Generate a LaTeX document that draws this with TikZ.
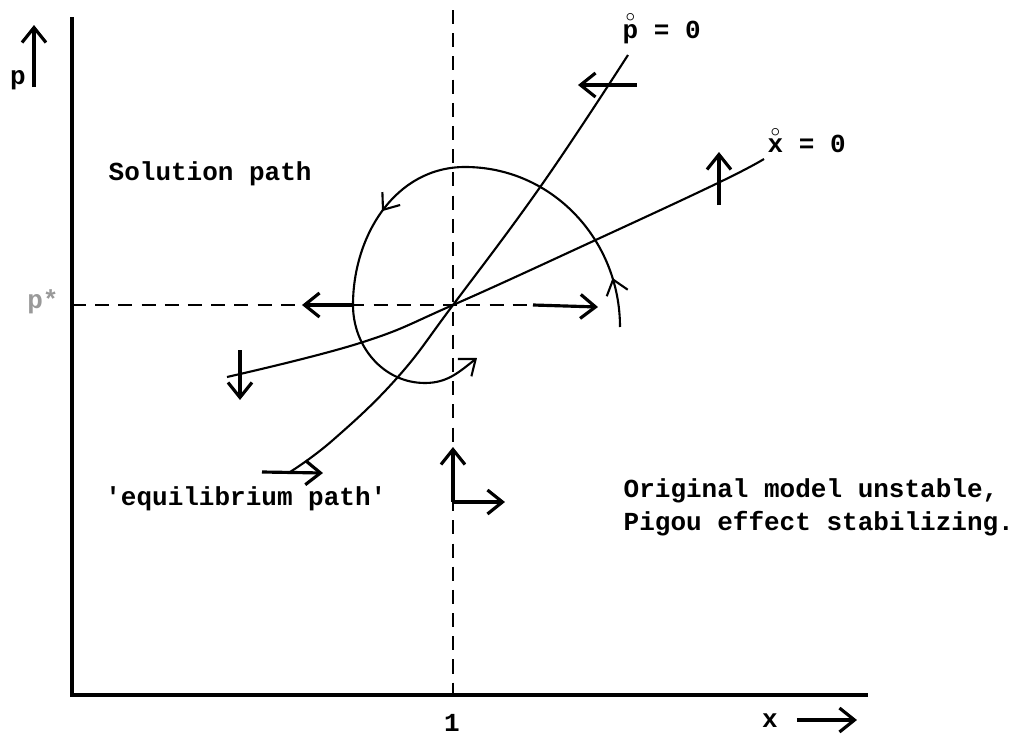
\documentclass[tikz,border=0pt]{standalone}
\usepackage{fontspec}
\setmonofont{Liberation Mono}
\usetikzlibrary{arrows.meta,decorations.markings}

% small ring set over a letter (time derivative)
\newcommand\ringover[1]{\leavevmode\vbox{\offinterlineskip\halign{\hfil##\hfil\cr
  \scalebox{0.7}{$\circ$}\cr\noalign{\kern0.6pt}#1\cr}}}

\begin{document}
\begin{tikzpicture}[
  axis/.style={line width=0.9pt},
  curve/.style={line width=0.6pt},
  guide/.style={line width=0.55pt, dash pattern=on 4pt off 2.6pt},
  flow/.style={line width=0.9pt, -{Straight Barb[length=0.15cm,width=0.24cm]}},
  lbl/.style={font=\ttfamily\bfseries\fontsize{7.4}{9.4}\selectfont, inner sep=0pt},
  spiral/.style={curve, -{Straight Barb[length=0.14cm,width=0.22cm]},
    postaction={decorate}, decoration={markings,
      mark=at position 0.08 with {\arrow{Straight Barb[length=0.14cm,width=0.22cm]}},
      mark=at position 0.555 with {\arrow{Straight Barb[length=0.14cm,width=0.22cm]}}}}]
\useasboundingbox (0,0) rectangle (10.09,7.38);
% axes
\coordinate (O) at (0.72,0.43);
\coordinate (ytop) at (0.72,7.21);
\coordinate (xend) at (8.68,0.43);
\draw[axis] (ytop) -- (O) -- (xend);
\node[lbl] (plbl) at (0.18,6.58) {p};
\draw[flow] (0.34,6.51) -- (0.34,7.13);
\node[lbl] (xlbl) at (7.70,0.17) {x};
\draw[flow] (7.97,0.18) -- (8.57,0.18);
\node[lbl] (one) at (4.52,0.15) {1};
% equilibrium and guide lines
\coordinate (E) at (4.53,4.33);
\coordinate (vtop) at (4.53,7.28);
\coordinate (hend) at (5.33,4.33);
\draw[guide] (vtop) -- (E |- O);
\draw[guide] (O |- E) -- (hend);
\node[lbl, text=black!40] (pstar) at (0.43,4.36) {p*};
% pdot = 0
\draw[curve] plot[smooth, tension=0.7] coordinates
  {(2.90,2.66) (3.33,2.98) (3.97,3.60) (4.53,4.33) (5.43,5.55) (6.28,6.83)};
\node[lbl, anchor=base west] (pdot) at (6.22,7.00) {\ringover{p} = 0};
\draw[flow] (6.37,6.53) -- (5.78,6.53);
\draw[flow] (2.62,2.66) -- (3.23,2.65);
% xdot = 0
\draw[curve] plot[smooth, tension=0.7] coordinates
  {(2.27,3.61) (3.60,3.95) (4.53,4.33) (6.00,5.00) (7.20,5.56) (7.64,5.79)};
\node[lbl, anchor=base west] (xdot) at (7.67,5.86) {\ringover{x} = 0};
\draw[flow] (7.19,5.33) -- (7.19,5.86);
\draw[flow] (2.40,3.88) -- (2.40,3.38);
% horizontal motion through p*
\draw[flow] (3.53,4.33) -- (3.02,4.33);
\draw[flow] (hend) -- (5.98,4.31);
% solution path
\draw[spiral] (6.20,4.11) to[out=90,in=0] (4.65,5.71)
  to[out=180,in=90] (3.53,4.33) to[out=-90,in=180] (4.25,3.55)
  to[out=0,in=-142] (4.77,3.80);
% motion below the point
\coordinate (L) at (4.53,2.36);
\draw[flow] (L) -- (4.53,2.91);
\draw[flow] (L) -- (5.05,2.36);
% texts
\node[lbl, anchor=base west] (sol) at (1.08,5.58) {Solution path};
\node[lbl, anchor=base east] (eqp) at (3.87,2.33) {'equilibrium path'};
\node[lbl, anchor=base west] (orig) at (6.23,2.41) {Original model unstable,};
\node[lbl, anchor=base west] (pigou) at (6.23,2.08) {Pigou effect stabilizing.};
\end{tikzpicture}
\end{document}
